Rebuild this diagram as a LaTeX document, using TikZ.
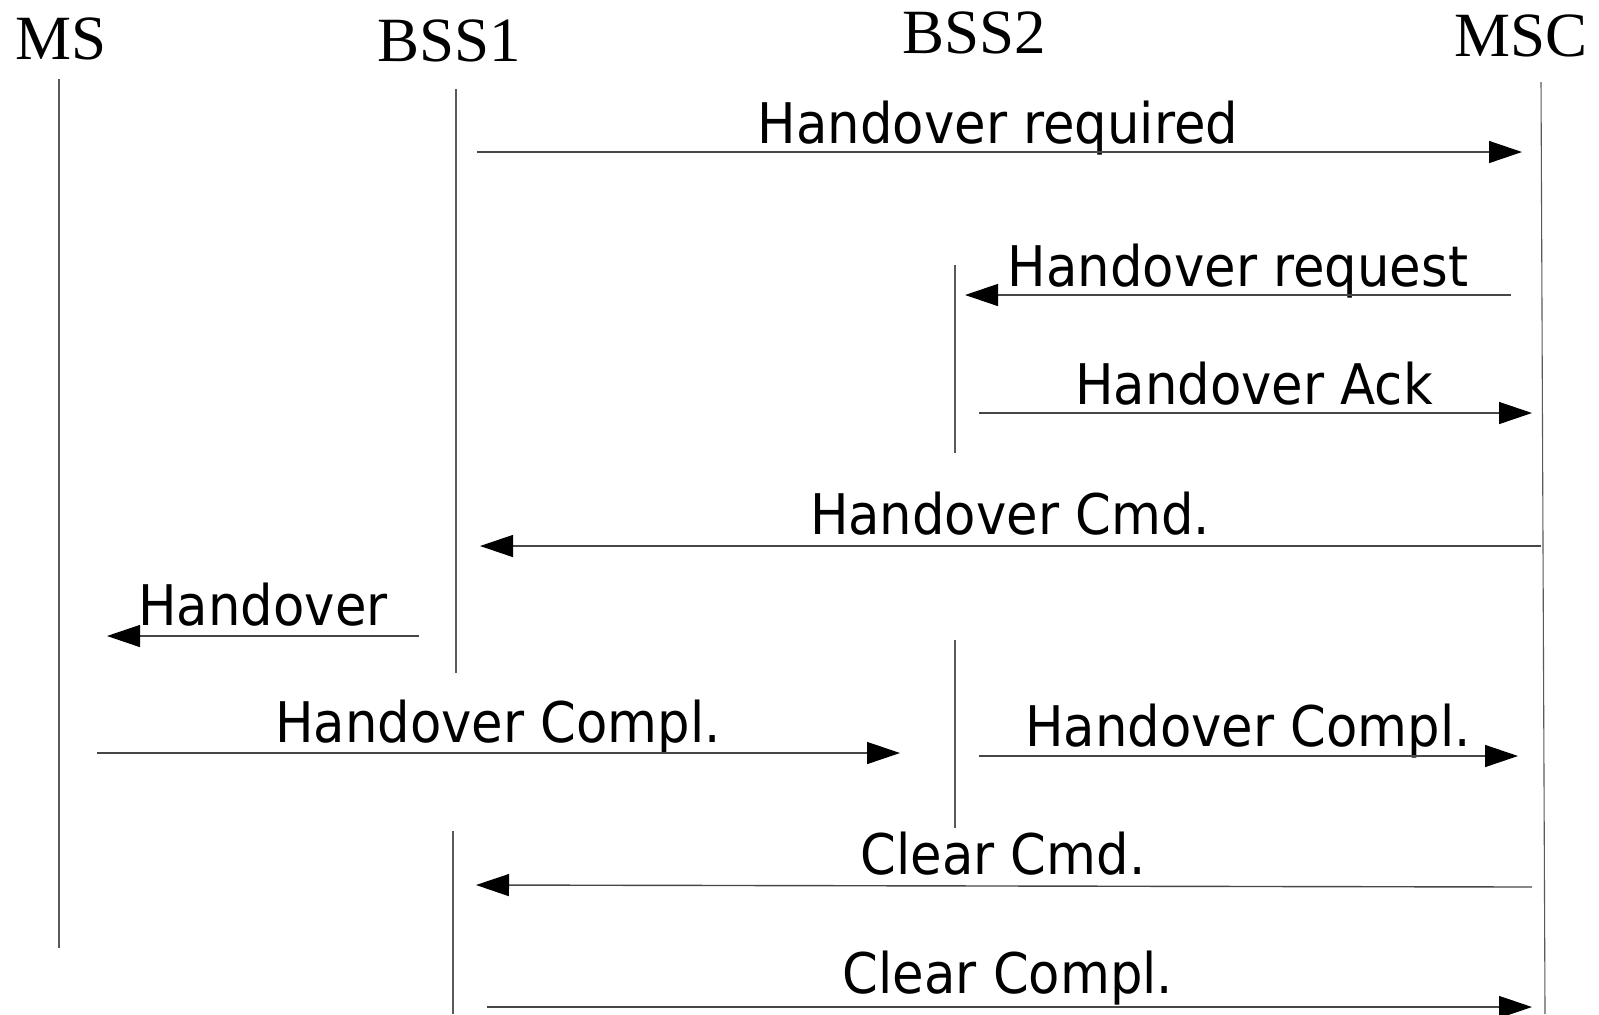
\documentclass[tikz,border=0pt]{standalone}
\usepackage{fontspec}
\setmainfont{Liberation Serif}
\newfontfamily\lblfont[FakeStretch=0.915]{DejaVu Sans}
\usetikzlibrary{arrows.meta}
\begin{document}
\begin{tikzpicture}[x=0.5pt,y=-0.5pt,
  hdr/.style={anchor=base,inner sep=0pt,font=\fontsize{31.5pt}{31.5pt}\selectfont},
  msg/.style={anchor=base,inner sep=0pt,font=\lblfont\fontsize{28pt}{28pt}\selectfont},
  life/.style={draw=black!65,line width=0.55pt},
  arr/.style={draw=black!72,line width=0.7pt,-{Triangle[length=16.5pt,width=11pt,color=black]}}]
\useasboundingbox (0,0) rectangle (1599,1014);
% headers
\node[hdr] (ms) at (61,59) {MS};
\node[hdr] (bss1) at (449,61) {BSS1};
\node[hdr] (bss2) at (974,53) {BSS2};
\node[hdr] (msc) at (1521,56) {MSC};
% lifelines
\coordinate (ms-t) at (59,79);   \coordinate (ms-b) at (59,948);
\coordinate (b1-t) at (456,89);  \coordinate (b1-m) at (456,673);
\coordinate (b1-u) at (453,831); \coordinate (b1-b) at (453,1014);
\coordinate (b2-t) at (955,265); \coordinate (b2-m) at (955,453);
\coordinate (b2-u) at (955,640); \coordinate (b2-b) at (955,828);
\coordinate (msc-t) at (1541,82); \coordinate (msc-b) at (1545,1014);
\draw[life] (ms-t) -- (ms-b);
\draw[life] (b1-t) -- (b1-m);
\draw[life] (b1-u) -- (b1-b);
\draw[life] (b2-t) -- (b2-m);
\draw[life] (b2-u) -- (b2-b);
\draw[life] (msc-t) -- (msc-b);
% messages
\node[msg] (l1) at (998,143) {Handover required};
\coordinate (a1s) at (477,152); \coordinate (a1e) at (1522,152);
\draw[arr] (a1s) -- (a1e);

\node[msg] (l2) at (1238,286) {Handover request};
\coordinate (a2s) at (1511,295); \coordinate (a2e) at (965,295);
\draw[arr] (a2s) -- (a2e);

\node[msg] (l3) at (1254,404) {Handover Ack};
\coordinate (a3s) at (979,413); \coordinate (a3e) at (1532,413);
\draw[arr] (a3s) -- (a3e);

\node[msg] (l4) at (1010,534) {Handover Cmd.};
\coordinate (a4s) at (1541,546); \coordinate (a4e) at (480,546);
\draw[arr] (a4s) -- (a4e);

\node[msg] (l5) at (263,625) {Handover};
\coordinate (a5s) at (419,636); \coordinate (a5e) at (107,636);
\draw[arr] (a5s) -- (a5e);

\node[msg] (l6) at (498,742) {Handover Compl.};
\coordinate (a6s) at (97,753); \coordinate (a6e) at (900,753);
\draw[arr] (a6s) -- (a6e);

\node[msg] (l7) at (1248,746) {Handover Compl.};
\coordinate (a7s) at (979,756); \coordinate (a7e) at (1518,756);
\draw[arr] (a7s) -- (a7e);

\node[msg] (l8) at (1003,874) {Clear Cmd.};
\coordinate (a8s) at (1532,887); \coordinate (a8e) at (476,885);
\draw[arr] (a8s) -- (a8e);

\node[msg] (l9) at (1008,993) {Clear Compl.};
\coordinate (a9s) at (487,1007); \coordinate (a9e) at (1532,1007);
\draw[arr] (a9s) -- (a9e);
\end{tikzpicture}
\end{document}
